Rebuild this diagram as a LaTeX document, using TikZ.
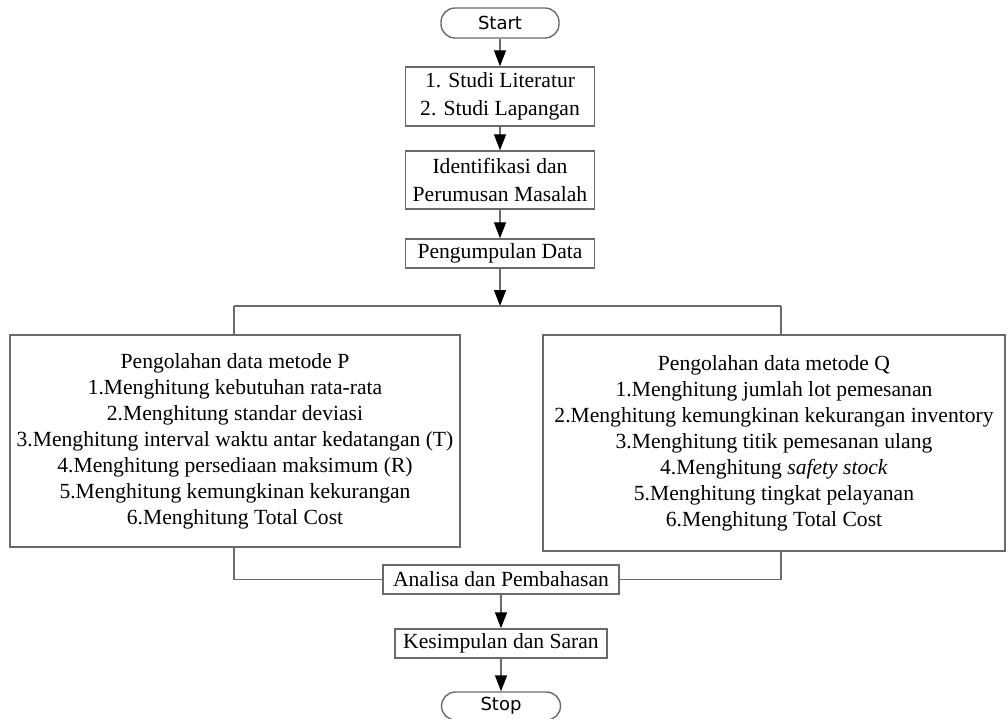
\documentclass[tikz,border=0pt]{standalone}
\usepackage{fontspec}
\setmainfont{Liberation Serif}
\newfontfamily\termfont{DejaVu Sans}
\usetikzlibrary{arrows.meta,calc}
\definecolor{edge}{HTML}{6A6A6A}
\begin{document}
\begin{tikzpicture}[x=1pt,y=-1pt,
  box/.style={draw=edge,line width=1.4pt,fill=white,align=center,inner sep=0pt,
    font=\fontsize{21.6}{26}\selectfont,text=black},
  term/.style={draw=edge,line width=1.4pt,fill=white,rounded corners=14pt,inner sep=0pt,
    font=\termfont\fontsize{18}{20}\selectfont,minimum width=118pt,minimum height=30pt},
  conn/.style={draw=edge,line width=1.4pt},
  arr/.style={conn,-{Triangle[width=12pt,length=16pt,fill=black,color=black]}}]
\useasboundingbox (0,0) rectangle (1008,719);
\fill[white] (0,0) rectangle (1008,719);
\node[term] (start) at (500,23) {Start};
\node[box,minimum width=189pt,minimum height=59pt,font=\fontsize{21.6}{27.5}\selectfont] (b1) at (500,96.5) {1. Studi Literatur\\2. Studi Lapangan};
\node[box,minimum width=189pt,minimum height=58pt,font=\fontsize{21.6}{28}\selectfont] (b2) at (500,180) {Identifikasi dan\\Perumusan Masalah};
\node[box,minimum width=189pt,minimum height=29pt] (b3) at (500,253.5) {Pengumpulan Data};
\coordinate (split) at (500,306);
\coordinate (pl) at (234,306);
\coordinate (pr) at (781,306);
\node[box,minimum width=450pt,minimum height=212pt] (P) at (235,441) {Pengolahan data metode P\\1.Menghitung kebutuhan rata-rata\\2.Menghitung standar deviasi\\3.Menghitung interval waktu antar kedatangan (T)\\4.Menghitung persediaan maksimum (R)\\5.Menghitung kemungkinan kekurangan\\6.Menghitung Total Cost};
\node[box,minimum width=462pt,minimum height=216pt] (Q) at (774,443) {Pengolahan data metode Q\\1.Menghitung jumlah lot pemesanan\\2.Menghitung kemungkinan kekurangan inventory\\3.Menghitung titik pemesanan ulang\\4.Menghitung \textit{safety stock}\\5.Menghitung tingkat pelayanan\\6.Menghitung Total Cost};
\node[box,minimum width=236pt,minimum height=29pt] (ana) at (501,579.5) {Analisa dan Pembahasan};
\node[box,minimum width=212pt,minimum height=29pt] (kes) at (501,643.5) {Kesimpulan dan Saran};
\node[term,minimum width=119pt,minimum height=28pt] (stop) at (501,706) {Stop};
\draw[arr] (start) -- (b1);
\draw[arr] (b1) -- (b2);
\draw[arr] (b2) -- (b3);
\draw[arr] (b3) -- (split);
\draw[conn] (pl) -- (pr);
\draw[conn] (pl) -- (P.north -| pl);
\draw[conn] (pr) -- (Q.north -| pr);
\draw[conn] (P.south -| pl) |- (ana.west);
\draw[conn] (Q.south -| pr) |- (ana.east);
\draw[arr] (ana) -- (kes);
\draw[arr] (kes) -- (stop);
\end{tikzpicture}
\end{document}
